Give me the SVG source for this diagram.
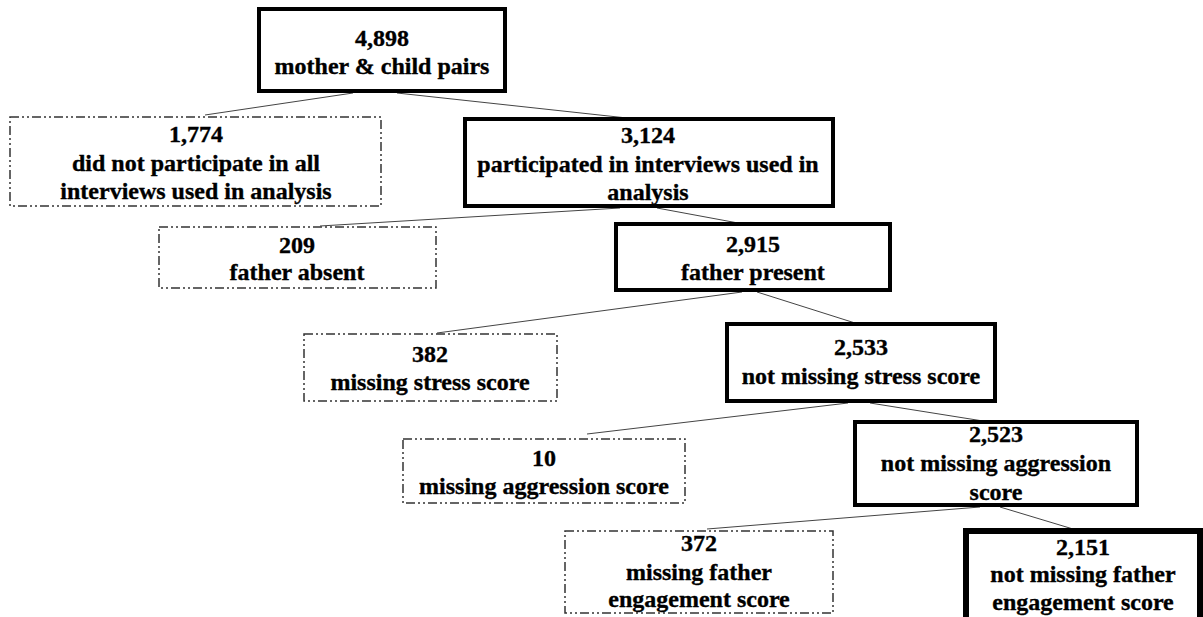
<svg xmlns="http://www.w3.org/2000/svg" width="1203" height="617" viewBox="0 0 1203 617">
<style>
.solid{fill:#fff;stroke:#000;stroke-width:4}
.heavy{fill:#fff;stroke:#000;stroke-width:6}
.dash{fill:#fff;stroke:#333;stroke-width:1.5;stroke-dasharray:9 3 2 3 2 3}
.conn{stroke:#444;stroke-width:1;fill:none}
text{font-family:"Liberation Serif","Times New Roman",serif;font-weight:bold;font-size:24px;fill:#000;stroke:#000;stroke-width:0.35;text-anchor:middle}
</style>
<rect width="1203" height="617" fill="#fff"/>
<g id="connectors">
<line class="conn" x1="353" y1="93" x2="205" y2="115"/>
<line class="conn" x1="397" y1="93" x2="627" y2="118"/>
<line class="conn" x1="620" y1="208" x2="320" y2="226"/>
<line class="conn" x1="657" y1="208" x2="738" y2="223"/>
<line class="conn" x1="742" y1="292" x2="437" y2="333"/>
<line class="conn" x1="757" y1="292" x2="855" y2="323"/>
<line class="conn" x1="848" y1="403" x2="587" y2="434"/>
<line class="conn" x1="870" y1="403" x2="983" y2="421"/>
<line class="conn" x1="980" y1="507" x2="707" y2="529"/>
<line class="conn" x1="1000" y1="507" x2="1073" y2="529"/>
</g>
<g id="n4898">
<rect class="solid" x="259" y="9" width="246" height="82"/>
<text x="382" y="46">4,898</text>
<text x="382" y="74">mother &amp; child pairs</text>
</g>
<g id="n1774">
<rect class="dash" x="10" y="117" width="371" height="89"/>
<text x="196" y="142">1,774</text>
<text x="196" y="171">did not participate in all</text>
<text x="196" y="199">interviews used in analysis</text>
</g>
<g id="n3124">
<rect class="solid" x="465" y="119" width="368" height="87"/>
<text x="648" y="143">3,124</text>
<text x="648" y="172">participated in interviews used in</text>
<text x="648" y="200">analysis</text>
</g>
<g id="n209">
<rect class="dash" x="159" y="227" width="277" height="61"/>
<text x="297" y="253">209</text>
<text x="297" y="280">father absent</text>
</g>
<g id="n2915">
<rect class="solid" x="616" y="224" width="274" height="66"/>
<text x="753" y="252">2,915</text>
<text x="753" y="280">father present</text>
</g>
<g id="n382">
<rect class="dash" x="304" y="334" width="253" height="67"/>
<text x="430" y="362">382</text>
<text x="430" y="390">missing stress score</text>
</g>
<g id="n2533">
<rect class="solid" x="727" y="324" width="268" height="77"/>
<text x="861" y="355">2,533</text>
<text x="861" y="384">not missing stress score</text>
</g>
<g id="n10">
<rect class="dash" x="403" y="439" width="282" height="64"/>
<text x="544" y="466">10</text>
<text x="544" y="494">missing aggression score</text>
</g>
<g id="n2523">
<rect class="solid" x="855" y="422" width="282" height="83"/>
<text x="996" y="442">2,523</text>
<text x="996" y="471">not missing aggression</text>
<text x="996" y="500">score</text>
</g>
<g id="n372">
<rect class="dash" x="565" y="531" width="268" height="82"/>
<text x="699" y="551">372</text>
<text x="699" y="580">missing father</text>
<text x="699" y="607">engagement score</text>
</g>
<g id="n2151">
<rect class="heavy" x="966" y="531" width="234" height="100"/>
<text x="1083" y="555">2,151</text>
<text x="1083" y="582">not missing father</text>
<text x="1083" y="610">engagement score</text>
</g>
</svg>
